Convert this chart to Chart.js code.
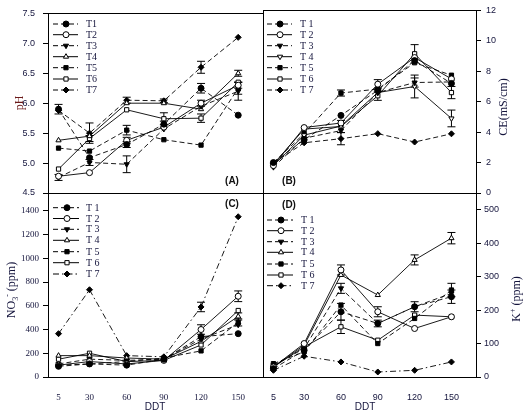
<!DOCTYPE html>
<html><head><meta charset="utf-8">
<script src="https://cdn.jsdelivr.net/npm/chart.js@4.4.1/dist/chart.umd.min.js"></script>
<style>
html,body{margin:0;padding:0;background:#fff;}
#wrap{position:relative;width:529px;height:417px;overflow:hidden;background:#fff;}
canvas{position:absolute;left:0;top:0;}
.t{position:absolute;font-family:"Liberation Serif",serif;font-size:12px;color:#14143c;white-space:nowrap;line-height:1;}
.rot{transform:translate(-50%,-50%) rotate(-90deg);}
.pl{position:absolute;font-family:"Liberation Sans",Arial,sans-serif;font-weight:bold;font-size:10px;color:#111;transform:translate(-50%,-50%);line-height:1;}
.dd{position:absolute;font-family:"Liberation Sans",Arial,sans-serif;font-size:10px;color:#14143c;transform:translate(-50%,-50%);line-height:1;}
sub,sup{font-size:8px;}
</style></head><body>
<div id="wrap">
<canvas id="cA" width="529" height="417"></canvas>
<canvas id="cB" width="529" height="417"></canvas>
<canvas id="cC" width="529" height="417"></canvas>
<canvas id="cD" width="529" height="417"></canvas>
<div class="t rot" style="left:19px;top:103px;color:#6b1a1a">pH</div>
<div class="t rot" style="left:503px;top:107px;">CE(mS/cm)</div>
<div class="t rot" style="left:12px;top:290px;">NO<sub>3</sub><sup>-</sup> (ppm)</div>
<div class="t rot" style="left:515px;top:299px;">K<sup>+</sup> (ppm)</div>
<div class="dd" style="left:155px;top:407px;">DDT</div>
<div class="dd" style="left:365px;top:407px;">DDT</div>
<div class="pl" style="left:232px;top:181px;">(A)</div>
<div class="pl" style="left:289px;top:181px;">(B)</div>
<div class="pl" style="left:232px;top:204px;">(C)</div>
<div class="pl" style="left:289px;top:205px;">(D)</div>
</div>
<script>
// ---- data ----
const ddt = [5, 30, 60, 90, 120, 150];
const namesA = ['T1','T2','T3','T4','T5','T6','T7'];
const namesBCD = ['T 1','T 2','T 3','T 4','T 5','T 6','T 7'];

const pHTicks = [4.5, 5.0, 5.5, 6.0, 6.5, 7.0, 7.5];
const pHValues = [
  [5.90, 5.09, 5.31, 5.65, 6.25, 5.80],
  [4.78, 4.84, 5.38, 5.60, 6.00, 6.30],
  [4.76, 5.01, 4.98, 5.57, 5.95, 6.20],
  [5.38, 5.45, 6.00, 6.00, 5.90, 6.50],
  [5.25, 5.20, 5.55, 5.39, 5.30, 6.25],
  [4.90, 5.41, 5.89, 5.74, 5.75, 6.35],
  [5.88, 5.50, 6.05, 6.04, 6.60, 7.10]
];
const pHErr = [
  [0.08, 0, 0.05, 0.05, 0.08, 0],
  [0, 0, 0.05, 0, 0.05, 0.05],
  [0.05, 0.05, 0.14, 0, 0, 0.15],
  [0, 0, 0, 0, 0, 0.05],
  [0, 0, 0.08, 0, 0, 0.10],
  [0, 0.05, 0, 0.10, 0.07, 0],
  [0, 0.17, 0.05, 0.03, 0.10, 0]
];

const ceTicks = [0, 2, 4, 6, 8, 10, 12];
const ceValues = [
  [2.0, 3.5, 5.1, 6.75, 8.7, 7.2],
  [1.8, 4.3, 4.6, 7.15, 8.9, 7.5],
  [1.7, 3.6, 4.1, 6.6, 7.26, 7.3],
  [1.8, 3.8, 4.4, 6.6, 7.0, 4.9],
  [2.0, 3.9, 6.57, 6.83, 8.56, 7.74],
  [1.9, 4.2, 4.37, 6.39, 9.15, 6.6],
  [1.95, 3.3, 3.57, 3.9, 3.35, 3.89]
];
const ceErr = [
  [0, 0, 0, 0, 0, 0],
  [0, 0, 0, 0.3, 0, 0],
  [0, 0, 0, 0, 0.3, 0],
  [0, 0, 0, 0, 0.75, 0.55],
  [0, 0, 0.2, 0, 0, 0],
  [0, 0, 0.4, 0.3, 0.6, 0.4],
  [0, 0, 0.4, 0, 0, 0]
];

const no3Ticks = [0, 200, 400, 600, 800, 1000, 1200, 1400];
const no3Values = [
  [90, 110, 100, 150, 340, 365],
  [100, 130, 110, 140, 400, 680],
  [110, 150, 140, 150, 320, 440],
  [180, 180, 160, 150, 300, 510],
  [100, 110, 130, 160, 220, 460],
  [150, 200, 130, 140, 270, 560],
  [365, 735, 180, 170, 590, 1350]
];
const no3Err = [
  [0, 0, 0, 0, 0, 0],
  [0, 0, 0, 0, 40, 45],
  [0, 0, 0, 0, 0, 0],
  [0, 0, 0, 0, 0, 30],
  [0, 0, 0, 0, 0, 30],
  [0, 0, 0, 0, 0, 0],
  [0, 0, 0, 0, 40, 0]
];

const kTicks = [0, 100, 200, 300, 400, 500];
const kValues = [
  [25, 80, 195, 160, 210, 240],
  [30, 100, 320, 195, 145, 180],
  [35, 85, 265, 160, 210, 250],
  [30, 95, 305, 245, 350, 415],
  [40, 75, 215, 100, 175, 260],
  [30, 90, 150, 110, 185, 180],
  [20, 62, 45, 15, 20, 45]
];
const kErr = [
  [0, 0, 25, 10, 0, 20],
  [0, 0, 15, 15, 0, 0],
  [0, 0, 15, 0, 15, 0],
  [0, 0, 0, 0, 15, 17],
  [0, 0, 0, 0, 0, 20],
  [0, 0, 20, 0, 0, 0],
  [0, 0, 0, 0, 0, 0]
];

// ---- styles ----
const INK = '#000';
const TXT = '#14143c';
const DASH = [5, 3];
const DASHDOT = [6, 3, 1.5, 3];
const MR = 3.0;
function seriesStyles(t4rot, t7dash) {
  return [
    {ps:'circle', rot:0, fill:true, dash:DASH},
    {ps:'circle', rot:0, fill:false, dash:[]},
    {ps:'triangle', rot:180, fill:true, dash:DASH},
    {ps:'triangle', rot:t4rot, fill:false, dash:[]},
    {ps:'rect', rot:0, fill:true, dash:DASH},
    {ps:'rect', rot:0, fill:false, dash:[]},
    {ps:'rectRot', rot:0, fill:true, dash:t7dash}
  ];
}

function drawMarker(ctx, st, x, y, r) {
  ctx.save();
  ctx.setLineDash([]);
  ctx.fillStyle = st.fill ? INK : '#fff';
  ctx.strokeStyle = INK;
  ctx.lineWidth = 1;
  Chart.helpers.drawPoint(ctx, {pointStyle: st.ps, rotation: st.rot, radius: r, borderWidth: 1}, x, y);
  ctx.restore();
}

const framePlugin = {
  id: 'frame',
  afterDraw(chart) {
    const a = chart.chartArea, ctx = chart.ctx;
    ctx.save();
    ctx.strokeStyle = INK; ctx.lineWidth = 1;
    ctx.strokeRect(Math.round(a.left) + 0.5, Math.round(a.top) + 0.5, Math.round(a.right - a.left), Math.round(a.bottom - a.top));
    ctx.restore();
  }
};

const errPlugin = {
  id: 'errbars',
  beforeDatasetsDraw(chart) {
    const ctx = chart.ctx, ys = chart.scales.y;
    ctx.save();
    ctx.strokeStyle = INK; ctx.lineWidth = 1; ctx.setLineDash([]);
    chart.data.datasets.forEach((ds, i) => {
      const meta = chart.getDatasetMeta(i);
      ds.err.forEach((e, j) => {
        if (!e) return;
        const v = ds.data[j].y, x = meta.data[j].x;
        const y1 = ys.getPixelForValue(v - e), y2 = ys.getPixelForValue(v + e);
        ctx.beginPath();
        ctx.moveTo(x, y1); ctx.lineTo(x, y2);
        ctx.moveTo(x - 4, y1); ctx.lineTo(x + 4, y1);
        ctx.moveTo(x - 4, y2); ctx.lineTo(x + 4, y2);
        ctx.stroke();
      });
    });
    ctx.restore();
  }
};

const legendPlugin = {
  id: 'panelLegend',
  afterDraw(chart, args, o) {
    const ctx = chart.ctx;
    o.names.forEach((n, i) => {
      const st = o.styles[i], y = o.ys[i];
      ctx.save();
      ctx.strokeStyle = INK; ctx.lineWidth = 1; ctx.setLineDash(st.dash);
      ctx.beginPath(); ctx.moveTo(o.x0, y); ctx.lineTo(o.x1, y); ctx.stroke();
      ctx.restore();
      drawMarker(ctx, st, o.xm, y, MR);
      ctx.save();
      ctx.fillStyle = TXT;
      ctx.font = '10px "Liberation Serif", serif';
      ctx.textBaseline = 'middle';
      ctx.fillText(n, o.xt, y + 0.5);
      ctx.restore();
    });
  }
};

function makePanel(id, p) {
  const styles = p.styles;
  const datasets = p.values.map((vals, i) => ({
    label: p.names[i],
    data: ddt.map((x, j) => ({x: x, y: vals[j]})),
    err: p.err[i],
    borderColor: INK,
    borderWidth: 0.9,
    borderDash: styles[i].dash,
    pointStyle: styles[i].ps,
    rotation: styles[i].rot,
    pointRadius: MR,
    pointBorderWidth: 1,
    pointBorderColor: INK,
    pointBackgroundColor: styles[i].fill ? INK : '#fff',
    fill: false,
    tension: 0
  }));
  const tickFont = {family: p.tickFamily, size: 9};
  return new Chart(document.getElementById(id), {
    type: 'line',
    data: {datasets: datasets},
    plugins: [framePlugin, errPlugin, legendPlugin],
    options: {
      responsive: false,
      animation: false,
      events: [],
      layout: {padding: p.padding},
      plugins: {
        legend: {display: false},
        tooltip: {enabled: false},
        panelLegend: p.legend
      },
      scales: {
        x: {
          type: 'linear', min: -3.5, max: 170,
          display: p.showX,
          afterBuildTicks: s => { s.ticks = ddt.map(v => ({value: v})); },
          afterFit: s => { s.height = p.showX ? 40 : 0; },
          grid: {display: false},
          border: {display: false},
          ticks: {font: tickFont, color: TXT, padding: 7, maxRotation: 0, autoSkip: false}
        },
        y: {
          type: 'linear', position: p.yPos, min: p.yMin, max: p.yMax,
          afterBuildTicks: s => { s.ticks = p.ticks.map(v => ({value: v})); },
          afterFit: s => { s.width = p.yWidth; },
          grid: {drawOnChartArea: false, drawTicks: true, tickLength: 5, color: INK, lineWidth: 1},
          border: {display: true, color: INK, width: 1},
          ticks: {font: tickFont, color: TXT, padding: p.tickPad, autoSkip: false,
                  callback: p.fmt}
        }
      }
    }
  });
}

const rowsTop = [24, 34.7, 45.7, 56.7, 67.7, 79, 90];
const rowsC = [207.7, 218.5, 229.3, 240.3, 251.7, 262.7, 274];
const rowsD = [220, 230.7, 241.7, 252.3, 264, 275, 285.7];

const stA = seriesStyles(0, DASH);
const stB = seriesStyles(180, DASH);
const stC = seriesStyles(0, DASHDOT);
const stD = seriesStyles(0, DASHDOT);

makePanel('cA', {
  values: pHValues, err: pHErr, names: namesA, styles: stA,
  padding: {left: 0, top: 9, right: 266, bottom: 224},
  showX: false, yPos: 'left', yMin: 4.5, yMax: 7.5, ticks: pHTicks, yWidth: 48, tickPad: 8,
  tickFamily: '"Liberation Sans", Arial, sans-serif',
  fmt: v => Number(v).toFixed(1),
  legend: {names: namesA, styles: stA, ys: rowsTop, x0: 53, x1: 78, xm: 66, xt: 86}
});
makePanel('cB', {
  values: ceValues, err: ceErr, names: namesBCD, styles: stB,
  padding: {left: 263, top: 9, right: 0, bottom: 224},
  showX: false, yPos: 'right', yMin: 0, yMax: 12, ticks: ceTicks, yWidth: 53, tickPad: 5,
  tickFamily: '"Liberation Sans", Arial, sans-serif',
  fmt: v => String(v),
  legend: {names: namesBCD, styles: stB, ys: rowsTop, x0: 267, x1: 292, xm: 280, xt: 300}
});
makePanel('cC', {
  values: no3Values, err: no3Err, names: namesBCD, styles: stC,
  padding: {left: 0, top: 193, right: 266, bottom: 0},
  showX: true, yPos: 'left', yMin: 0, yMax: 1550, ticks: no3Ticks, yWidth: 48, tickPad: 4,
  tickFamily: '"Liberation Serif", serif',
  fmt: v => String(v),
  legend: {names: namesBCD, styles: stC, ys: rowsC, x0: 53, x1: 79, xm: 67, xt: 86}
});
makePanel('cD', {
  values: kValues, err: kErr, names: namesBCD, styles: stD,
  padding: {left: 263, top: 193, right: 0, bottom: 0},
  showX: true, yPos: 'right', yMin: 0, yMax: 550, ticks: kTicks, yWidth: 53, tickPad: 3,
  tickFamily: '"Liberation Sans", Arial, sans-serif',
  fmt: v => String(v),
  legend: {names: namesBCD, styles: stD, ys: rowsD, x0: 267, x1: 293, xm: 281, xt: 301}
});
</script>
</body></html>
